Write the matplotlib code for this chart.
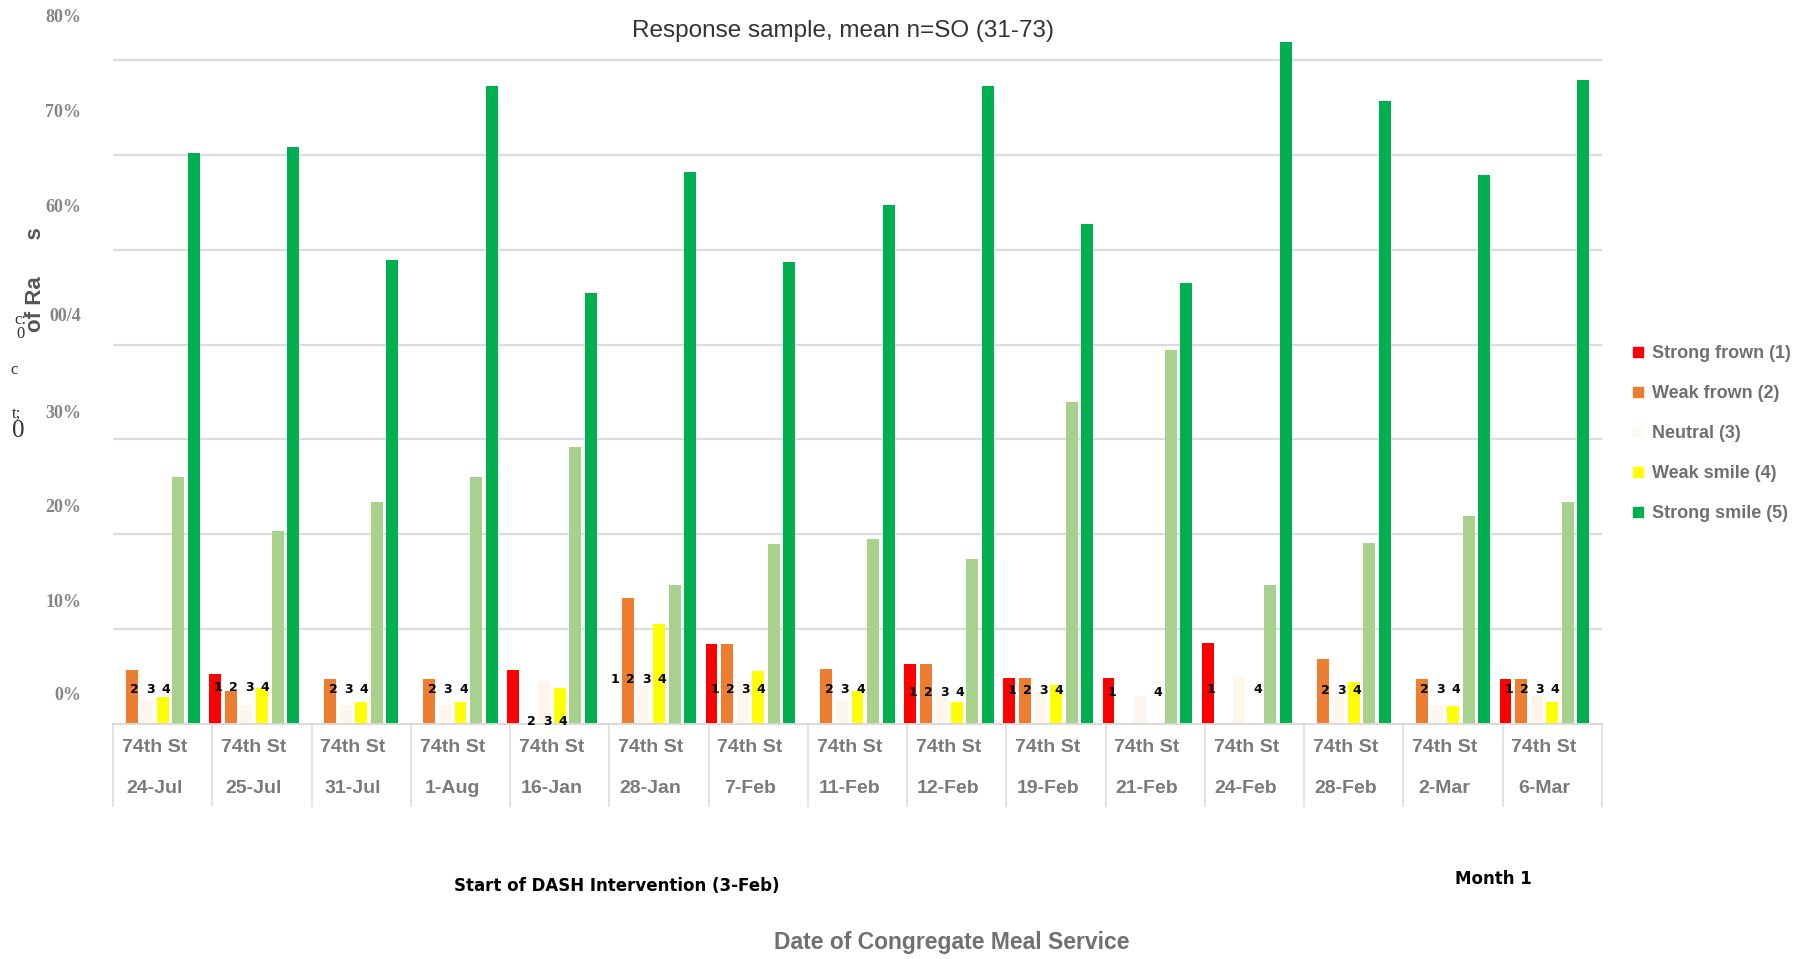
import numpy as np
import matplotlib.pyplot as plt
from matplotlib.lines import Line2D
from matplotlib.transforms import ScaledTranslation

# data (percent of ratings)
dates = ["24-Jul", "25-Jul", "31-Jul", "1-Aug", "16-Jan", "28-Jan", "7-Feb", "11-Feb",
         "12-Feb", "19-Feb", "21-Feb", "24-Feb", "28-Feb", "2-Mar", "6-Mar"]
site = "74th St"

strong_frown = [0, 5.3, 0, 0, 5.7, 0, 8.4, 0, 6.3, 4.9, 4.9, 8.5, 0, 0, 4.7]
weak_frown = [5.7, 3.5, 4.7, 4.7, 0, 13.3, 8.4, 5.8, 6.3, 4.9, 0, 0, 6.9, 4.7, 4.7]
neutral = [2.5, 2.0, 2.0, 2.0, 4.5, 4.0, 4.5, 2.5, 3.0, 3.5, 3.0, 5.0, 3.0, 2.0, 3.0]
weak_smile = [2.9, 3.8, 2.3, 2.3, 3.8, 10.5, 5.6, 3.5, 2.3, 4.1, 0, 0, 4.4, 1.9, 2.3]
smile_light = [26.0, 20.4, 23.4, 26.0, 29.2, 14.7, 19.0, 19.5, 17.4, 33.9, 39.4, 14.7, 19.1, 21.9, 23.4]
strong_smile = [60.2, 60.8, 48.9, 67.3, 45.4, 58.2, 48.7, 54.7, 67.3, 52.7, 46.5, 71.9, 65.7, 57.9, 67.9]

# the little "1 2 3 4" labels printed near the small bars
digits = ["234", "1234", "234", "234", "234", "1234", "1234", "234",
          "1234", "1234", "14", "14", "234", "234", "1234"]
digit_y = [3.6, 3.8, 3.6, 3.6, 0.3, 4.7, 3.6, 3.6, 3.3, 3.5, 3.3, 3.6, 3.5, 3.6, 3.6]

ytick_vals = [0, 10, 20, 30, 40, 50, 60, 70]
ytick_text = ["0%", "10%", "20%", "30%", "00/4", "60%", "70%", "80%"]
ytick_dy = [22, 21, 21, 20, 22, 32, 32, 32]   # points, labels sit above their gridlines

legend_labels = ["Strong frown (1)", "Weak frown (2)", "Neutral (3)", "Weak smile (4)", "Strong smile (5)"]

colors = ["#ff0000", "#ed7d31", "#fdf6ec", "#ffff00", "#a9d18e", "#00b050"]
legend_colors = ["#ff0000", "#ed7d31", "#fefaf3", "#ffff00", "#00b050"]

fig = plt.figure(figsize=(18.1, 9.59), dpi=100)
ax = fig.add_axes([0.0625, 0.245, 0.8225, 0.732])

x = np.arange(len(dates))
step = 0.157
w = 0.12
series = [strong_frown, weak_frown, neutral, weak_smile, smile_light, strong_smile]
for k, (vals, col) in enumerate(zip(series, colors)):
    ax.bar(x + (k - 3) * step, vals, width=w, color=col, zorder=2)

for i, s in enumerate(digits):
    for d in s:
        k = int(d) - 1
        ax.text(x[i] + (k - 3) * step + 0.03, digit_y[i], d, ha="center", va="center",
                fontsize=9, fontweight="bold", color="black", zorder=4, clip_on=False)

ax.set_xlim(-0.5, 14.5)
ax.set_ylim(0, 74)

ax.set_yticks(ytick_vals)
ax.set_yticklabels(ytick_text, family="Liberation Serif", fontweight="bold",
                   color="#858585", fontsize=13)
ax.tick_params(axis="y", length=0, pad=23)
for lab, dy in zip(ax.get_yticklabels(), ytick_dy):
    lab.set_transform(lab.get_transform() + ScaledTranslation(0, dy / 72, fig.dpi_scale_trans))
ax.yaxis.grid(True, color="#dcdcdc", lw=1.6, zorder=0)

ax.set_xticks(np.arange(-0.5, 15, 1))
ax.set_xticklabels([])
ax.set_xticks(x, minor=True)
ax.set_xticklabels([site + "\n" + d for d in dates], minor=True, family="Liberation Sans",
                   fontweight="bold", color="#7a7a7a", fontsize=14, linespacing=2.8)
ax.tick_params(axis="x", which="major", length=60, width=1.2, color="#dedede")
ax.tick_params(axis="x", which="minor", length=0, pad=11)
for lab in ax.get_xticklabels(minor=True):
    lab.set_transform(lab.get_transform() + ScaledTranslation(-6 / 72, 0, fig.dpi_scale_trans))

for sp in ["left", "right", "top"]:
    ax.spines[sp].set_visible(False)
ax.spines["bottom"].set_color("#d9d9d9")
ax.spines["bottom"].set_linewidth(1.4)

fig.text(0.466, 0.968, "Response sample, mean n=SO (31-73)", ha="center", va="center",
         family="Liberation Sans", fontsize=17.5, color="#333333")
fig.text(0.526, 0.0167, "Date of Congregate Meal Service", ha="center", va="center",
         family="Liberation Sans", fontweight="bold", fontsize=16.5, color="#707070")
fig.text(0.341, 0.076, "Start of DASH Intervention (3-Feb)", ha="center", va="center",
         fontweight="bold", fontsize=12, color="black")
fig.text(0.825, 0.083, "Month 1", ha="center", va="center",
         fontweight="bold", fontsize=12, color="black")

# garbled y-axis title from the scan
fig.text(0.0195, 0.708, "of Ra      s", rotation=90, ha="center", va="center",
         family="Liberation Sans", fontweight="bold", fontsize=16, color="#555555")
fig.text(0.0115, 0.666, "c:", ha="center", va="center", family="Liberation Serif",
         fontsize=12, color="#333333")
fig.text(0.0115, 0.652, "0", ha="center", va="center", family="Liberation Serif",
         fontsize=12, color="#333333")
fig.text(0.008, 0.614, "c", ha="center", va="center", family="Liberation Serif",
         fontsize=12, color="#333333")
fig.text(0.009, 0.569, "t;", ha="center", va="center", family="Liberation Serif",
         fontsize=12, color="#333333")
fig.text(0.010, 0.551, "0", ha="center", va="center", family="Liberation Serif",
         fontsize=18, color="#333333")

handles = [Line2D([], [], marker="s", ls="", color=c, markersize=7) for c in legend_colors]
fig.legend(handles, legend_labels, loc="upper left", bbox_to_anchor=(0.893, 0.657),
           frameon=False, prop=dict(family="Liberation Sans", weight="bold", size=13),
           labelcolor="#707070", handlelength=0.6, handletextpad=0.5, labelspacing=1.27)

fig.savefig("out.png", dpi=100)
